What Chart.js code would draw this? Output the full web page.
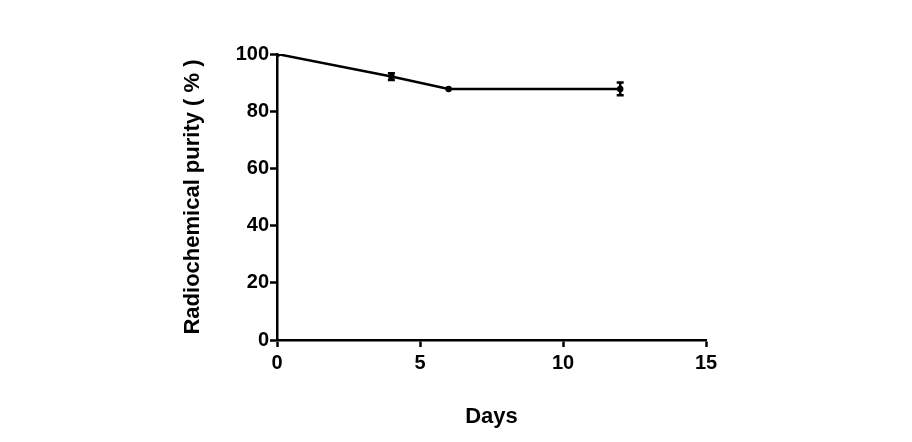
<!DOCTYPE html>
<html><head><meta charset="utf-8">
<script src="https://cdn.jsdelivr.net/npm/chart.js@4.4.0/dist/chart.umd.min.js"></script>
<style>html,body{margin:0;padding:0;background:#fff}#wrap{width:912px;height:442px}</style>
</head><body><div id="wrap"><canvas id="c" width="912" height="442"></canvas></div>
<script>
const days = [0, 4, 6, 12];
const purity = [100, 92.1, 87.8, 87.8];
const errors = [0, 1.2, 0, 2.2];
const xTicks = [0, 5, 10, 15];
const yTicks = [0, 20, 40, 60, 80, 100];

const errorBars = {
  id: 'errorBars',
  afterDatasetsDraw(chart) {
    const ctx = chart.ctx, xs = chart.scales.x, ys = chart.scales.y;
    ctx.save();
    ctx.strokeStyle = '#000';
    ctx.lineWidth = 2.5;
    days.forEach((d, i) => {
      if (!errors[i]) return;
      const x = xs.getPixelForValue(d);
      const y1 = ys.getPixelForValue(purity[i] + errors[i]);
      const y2 = ys.getPixelForValue(purity[i] - errors[i]);
      ctx.beginPath();
      ctx.moveTo(x, y1); ctx.lineTo(x, y2);
      ctx.moveTo(x - 3.5, y1); ctx.lineTo(x + 3.5, y1);
      ctx.moveTo(x - 3.5, y2); ctx.lineTo(x + 3.5, y2);
      ctx.stroke();
    });
    ctx.restore();
  }
};

const tickFont = {family: 'Liberation Sans, Arial', size: 20, weight: 'bold'};
const titleFont = {family: 'Liberation Sans, Arial', size: 22, weight: 'bold'};

new Chart(document.getElementById('c'), {
  type: 'scatter',
  data: {
    datasets: [{
      data: days.map((d, i) => ({x: d, y: purity[i]})),
      showLine: true,
      borderColor: '#000',
      backgroundColor: '#000',
      borderWidth: 2.5,
      pointRadius: 2,
      pointHoverRadius: 2
    }]
  },
  options: {
    responsive: false,
    animation: false,
    layout: {padding: {left: 180, right: 206, top: 54, bottom: 8}},
    plugins: {legend: {display: false}, tooltip: {enabled: false}},
    scales: {
      x: {
        type: 'linear', min: 0, max: 15,
        afterBuildTicks(s) { s.ticks = xTicks.map(v => ({value: v})); },
        grid: {drawOnChartArea: false, tickLength: 7, tickWidth: 2.5, color: '#000'},
        border: {color: '#000', width: 2.5},
        ticks: {color: '#000', font: tickFont, padding: 4, maxRotation: 0},
        title: {display: true, text: 'Days', color: '#000', font: titleFont, padding: {top: 24}},
        afterFit(s) { s.height = 94; }
      },
      y: {
        min: 0, max: 100,
        afterBuildTicks(s) { s.ticks = yTicks.map(v => ({value: v})); },
        grid: {drawOnChartArea: false, tickLength: 7, tickWidth: 2.5, color: '#000'},
        border: {color: '#000', width: 2.5},
        ticks: {color: '#000', font: tickFont, padding: 1},
        title: {display: true, text: 'Radiochemical purity ( % )', color: '#000', font: titleFont, padding: {top: 0, bottom: 0}},
        afterFit(s) { s.width = 97; }
      }
    }
  },
  plugins: [errorBars]
});
</script></body></html>
